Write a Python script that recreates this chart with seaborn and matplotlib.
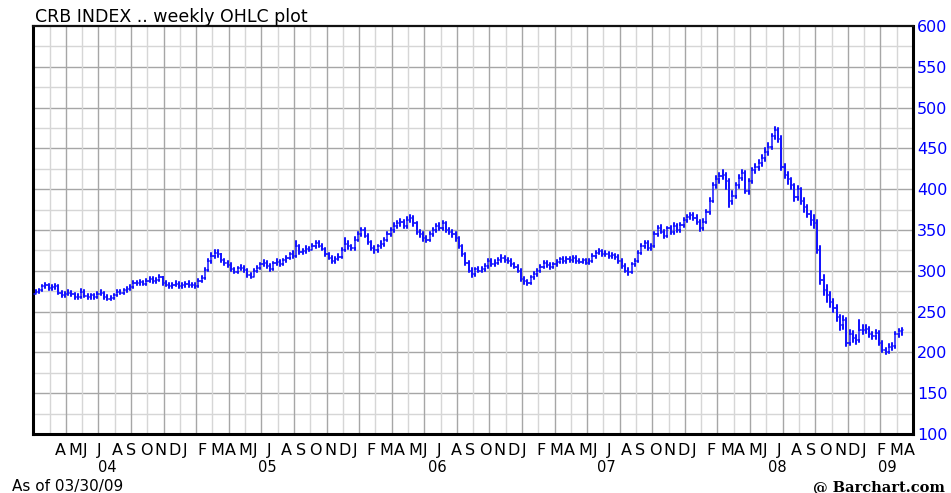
import numpy as np
import pandas as pd
import matplotlib
matplotlib.use("Agg")
import matplotlib.pyplot as plt
import matplotlib.dates as mdates
import matplotlib.transforms as mtransforms
import seaborn as sns

# weekly closes / highs / lows, week ending Fridays from 2004-02-20
closes = [
    274, 276, 281, 282, 279, 280, 281, 273, 270, 272, 273, 271, 268, 268, 274, 269, 268, 270, 268, 272, 273, 268, 266,
    267, 270, 274, 273, 276, 278, 280, 285, 285, 286, 284, 288, 290, 287, 289, 292, 285, 283, 281, 283, 284, 281, 282,
    # 2005
    284, 282, 283, 281, 288, 291, 301, 312, 318, 322, 320, 313, 310, 307, 302, 299, 303, 304, 301, 295, 293, 300, 304,
    308, 310, 306, 302, 309, 311, 308, 313, 316, 320, 318, 330, 323, 324, 327, 326, 330, 334, 331, 327, 320, 316, 312,
    315, 317, 325, 333, 330, 328,
    # 2006
    338, 345, 350, 343, 335, 328, 325, 330, 333, 338, 345, 350, 355, 358, 360, 355, 362, 365, 358, 348, 345, 340, 338,
    345, 350, 355, 352, 358, 350, 348, 345, 340, 330, 320, 310, 300, 296, 302, 300, 302, 306, 312, 308, 310, 313, 316,
    313, 312, 308, 305, 300, 290,
    # 2007
    287, 285, 292, 296, 300, 305, 310, 307, 305, 308, 311, 314, 312, 315, 313, 316, 312, 311, 313, 310, 312, 318, 322,
    324, 320, 321, 318, 319, 317, 312, 306, 300, 298, 308, 312, 322, 330, 334, 328, 330, 345, 352, 348, 343, 352, 347,
    355, 350, 356, 362, 366, 368,
    # 2008
    365, 360, 352, 360, 372, 386, 405, 412, 416, 418, 410, 385, 392, 405, 414, 420, 398, 410, 423, 427, 432, 438, 445,
    452, 465, 472, 462, 427, 418, 412, 405, 390, 400, 386, 378, 370, 362, 358, 326, 289, 276, 270, 262, 255, 243, 233,
    240, 212, 222, 218, 215, 228,
    # 2009
    227, 229, 222, 220, 224, 212, 203, 201, 207, 208, 222, 226, 227,
]
highs = [
    277, 278, 283, 285, 284, 283, 284, 282, 275, 274, 276, 275, 273, 271, 278, 276, 271, 272, 272, 274, 276, 274, 270,
    269, 272, 276, 277, 278, 280, 283, 287, 288, 289, 288, 290, 293, 292, 291, 295, 293, 287, 285, 285, 287, 286, 285,
    286, 287, 285, 285, 290, 294, 303, 314, 322, 326, 325, 321, 315, 312, 309, 304, 305, 307, 306, 302, 297, 302, 306,
    310, 313, 312, 308, 311, 314, 313, 315, 318, 322, 324, 336, 332, 327, 330, 329, 333, 337, 336, 333, 328, 322, 318,
    317, 320, 328, 340, 336, 332,
    341, 348, 353, 352, 345, 337, 330, 332, 336, 340, 347, 353, 358, 361, 364, 362, 366, 369, 367, 360, 350, 347, 343,
    347, 352, 357, 358, 361, 360, 353, 350, 347, 342, 332, 322, 312, 303, 304, 305, 305, 308, 314, 315, 313, 316, 319,
    318, 316, 314, 310, 307, 302,
    292, 289, 294, 298, 302, 307, 312, 312, 309, 310, 313, 316, 317, 317, 317, 318, 318, 315, 315, 315, 314, 320, 324,
    327, 326, 324, 323, 322, 321, 319, 314, 308, 303, 310, 314, 324, 333, 337, 336, 333, 347, 355, 356, 350, 354, 355,
    358, 357, 359, 365, 369, 371,
    371, 368, 362, 363, 375, 389, 408, 416, 420, 423, 420, 412, 398, 408, 417, 424, 422, 413, 426, 431, 436, 442, 450,
    457, 468, 476, 475, 465, 431, 421, 414, 407, 404, 402, 389, 381, 373, 368, 362, 330, 295, 282, 274, 266, 258, 246,
    244, 242, 227, 226, 221, 240,
    234, 233, 231, 225, 227, 226, 214, 206, 210, 211, 225, 229, 230,
]
lows = [
    271, 273, 275, 279, 277, 277, 278, 271, 268, 268, 270, 269, 266, 265, 267, 268, 266, 266, 266, 267, 270, 266, 264,
    264, 265, 269, 271, 272, 274, 277, 279, 283, 283, 282, 283, 286, 285, 285, 287, 283, 281, 279, 279, 281, 279, 279,
    280, 280, 280, 279, 280, 286, 290, 300, 310, 316, 317, 311, 307, 305, 300, 297, 297, 301, 299, 293, 291, 292, 298,
    302, 306, 304, 300, 301, 307, 306, 307, 311, 314, 316, 317, 321, 321, 322, 324, 325, 328, 329, 325, 318, 314, 310,
    310, 313, 316, 324, 327, 325,
    326, 336, 343, 341, 333, 326, 322, 323, 328, 331, 336, 343, 348, 353, 355, 352, 353, 360, 355, 345, 342, 337, 335,
    336, 343, 348, 350, 350, 348, 345, 342, 337, 328, 318, 307, 298, 293, 294, 298, 298, 300, 304, 306, 306, 308, 311,
    311, 310, 306, 303, 298, 288,
    284, 282, 284, 290, 294, 298, 303, 305, 302, 303, 306, 309, 310, 310, 311, 311, 310, 309, 309, 308, 308, 311, 316,
    320, 318, 318, 316, 316, 315, 310, 304, 298, 295, 297, 306, 311, 320, 328, 326, 326, 329, 343, 346, 340, 341, 345,
    345, 347, 348, 354, 360, 364,
    362, 357, 349, 350, 358, 370, 384, 402, 408, 412, 400, 378, 382, 389, 402, 411, 395, 394, 408, 420, 424, 429, 435,
    442, 449, 462, 458, 424, 414, 407, 400, 386, 387, 382, 372, 366, 356, 352, 322, 284, 270, 262, 256, 250, 238, 228,
    229, 208, 209, 213, 210, 213,
    223, 224, 219, 216, 217, 209, 200, 198, 199, 203, 206, 219, 221,
]
first_open = 272
opens = [first_open] + closes[:-1]

month_letters = ["J", "F", "M", "A", "M", "J", "J", "A", "S", "O", "N", "D"]
year_labels = ["04", "05", "06", "07", "08", "09"]
y_ticks = [100, 150, 200, 250, 300, 350, 400, 450, 500, 550, 600]

blue = "#1414ff"

weeks = pd.date_range("2004-02-20", periods=len(closes), freq="W-FRI")
xnum = mdates.date2num(weeks)
half = 2.6  # tick half width in days

# one polyline per weekly bar: open tick -> low -> high -> close tick
rows = []
for i, (x, o, h, l, c) in enumerate(zip(xnum, opens, highs, lows, closes)):
    for px, py in [(x - half, o), (x, o), (x, l), (x, h), (x, c), (x + half, c)]:
        rows.append((i, px, py))
bars = pd.DataFrame(rows, columns=["week", "x", "y"])

sns.set_style("white")
plt.rcParams["font.family"] = ["DejaVu Sans"]

fig = plt.figure(figsize=(9.51, 4.93), dpi=100)
ax = fig.add_axes([0.035, 0.1197, 0.925, 0.8275])

x0 = mdates.date2num(pd.Timestamp("2004-02-15"))
x1 = mdates.date2num(pd.Timestamp("2009-04-20"))
ax.set_xlim(x0, x1)
ax.set_ylim(100, 600)

# grid: horizontal every 25 (50 darker), vertical evenly spaced
for v in range(125, 600, 25):
    ax.axhline(v, color="#a6a6a6" if v % 50 == 0 else "#d6d6d6", lw=1.0, zorder=0)
vx = np.linspace(x0, x1, 55)[1:-1]
for j, v in enumerate(vx):
    ax.axvline(v, color="#a6a6a6" if j % 2 == 1 else "#d6d6d6", lw=1.0, zorder=0)

sns.lineplot(data=bars, x="x", y="y", units="week", estimator=None, sort=False,
             color=blue, lw=1.1, ax=ax, legend=False, zorder=3)

ax.set_xlabel("")
ax.set_ylabel("")
ax.set_xticks([])
ax.yaxis.tick_right()
ax.set_yticks(y_ticks)
ax.set_yticklabels([str(t) for t in y_ticks])
ax.tick_params(axis="y", length=0, pad=3, labelsize=11.5, labelcolor="#0000ff")
for s in ["left", "bottom", "right"]:
    ax.spines[s].set_linewidth(2.2)
    ax.spines[s].set_color("black")
ax.spines["top"].set_linewidth(1.6)
ax.spines["top"].set_color("#111111")

# month letters and year labels under the axis
trans = mtransforms.blended_transform_factory(ax.transData, fig.transFigure)
months = pd.date_range("2004-04-01", "2009-04-01", freq="MS")
for m in months:
    ax.text(mdates.date2num(m), 1 - 455 / 493, month_letters[m.month - 1], transform=trans,
            ha="left", va="baseline", fontsize=11.5, color="black")
for lab in year_labels:
    yr = 2000 + int(lab)
    a = max(mdates.date2num(pd.Timestamp(f"{yr}-01-01")), x0)
    b = min(mdates.date2num(pd.Timestamp(f"{yr}-12-31")), x1)
    ax.text((a + b) / 2, 1 - 472 / 493, lab, transform=trans, ha="center", va="baseline",
            fontsize=10.5, color="black")

fig.text(35 / 951, 1 - 22.5 / 493, "CRB INDEX .. weekly OHLC plot", ha="left", va="baseline",
         fontsize=12.5, color="black")
fig.text(12 / 951, 1 - 491 / 493, "As of 03/30/09", ha="left", va="baseline", fontsize=11, color="black")
fig.text(945 / 951, 1 - 491 / 493, "@ Barchart.com", ha="right", va="baseline", fontsize=10.5,
         fontweight="bold", family="DejaVu Serif", color="black")

fig.savefig("out.png", dpi=100, facecolor="white")
